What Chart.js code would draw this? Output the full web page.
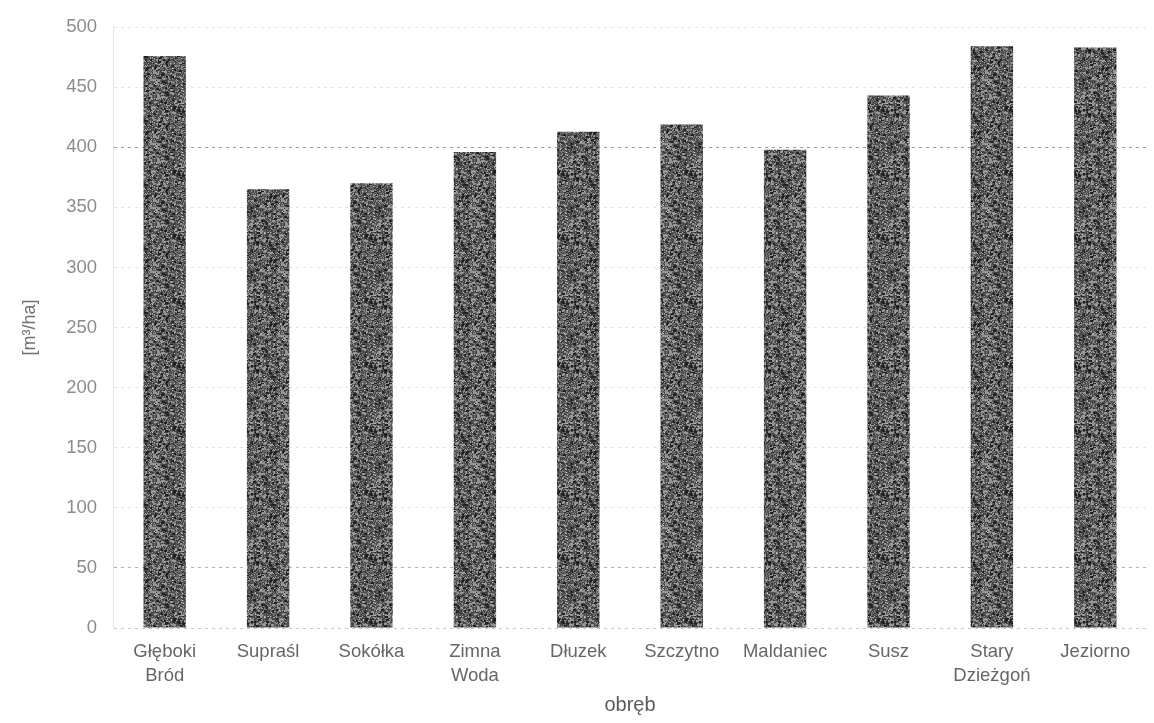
<!DOCTYPE html>
<html>
<head>
<meta charset="utf-8">
<script src="https://cdn.jsdelivr.net/npm/chart.js@4/dist/chart.umd.min.js"></script>
<style>
  html, body { margin: 0; padding: 0; background: #fff; }
  #wrap { width: 1154px; height: 723px; }
</style>
</head>
<body>
<div id="wrap"><canvas id="volumeChart"></canvas></div>
<script>
// Precincts (obręb) and stand volume in m3/ha
const precincts = [
    ['Głęboki', 'Bród'], 'Supraśl', 'Sokółka', ['Zimna', 'Woda'], 'Dłuzek',
    'Szczytno', 'Maldaniec', 'Susz', ['Stary', 'Dzieżgoń'], 'Jeziorno'
];
const volumes = [476, 365, 370, 396, 413, 419, 398, 443, 484, 483];
const yTicks = [0, 50, 100, 150, 200, 250, 300, 350, 400, 450, 500];

// Grainy dark grey fill, like a photocopied print (deterministic noise)
function makeGrainPattern() {
    const size = 64;
    const c = document.createElement('canvas');
    c.width = size;
    c.height = size;
    const g = c.getContext('2d');
    let seed = 12345;
    function rnd() {
        seed = (seed * 1103515245 + 12345) & 0x7fffffff;
        return seed / 0x7fffffff;
    }
    // base speckle
    for (let y = 0; y < size; y++) {
        for (let x = 0; x < size; x++) {
            const v = Math.round(45 + rnd() * rnd() * 150 + rnd() * 25);
            g.fillStyle = 'rgb(' + v + ',' + v + ',' + v + ')';
            g.fillRect(x, y, 1, 1);
        }
    }
    // a few darker and lighter blotches on top
    for (let i = 0; i < 260; i++) {
        const v = rnd() < 0.5 ? 35 : 150;
        g.fillStyle = 'rgb(' + v + ',' + v + ',' + v + ')';
        g.fillRect(Math.floor(rnd() * size), Math.floor(rnd() * size), 2 + Math.floor(rnd() * 2), 2);
    }
    return g.createPattern(c, 'repeat');
}

const ctx = document.getElementById('volumeChart').getContext('2d');
const volumeChart = new Chart(ctx, {
    type: 'bar',
    data: {
        labels: precincts,
        datasets: [{
            data: volumes,
            backgroundColor: makeGrainPattern(),
            borderWidth: 0,
            barPercentage: 0.41,
            categoryPercentage: 1.0
        }]
    },
    options: {
        responsive: true,
        maintainAspectRatio: false,
        animation: false,
        layout: { padding: { top: 26, right: 7, left: 0, bottom: 0 } },
        plugins: {
            legend: { display: false },
            tooltip: { enabled: false }
        },
        scales: {
            x: {
                grid: { display: false, drawTicks: false },
                border: { display: false },
                ticks: {
                    color: '#666',
                    padding: 12,
                    maxRotation: 0,
                    autoSkip: false,
                    font: { family: 'Liberation Sans', size: 18.5, lineHeight: 1.28 }
                },
                title: {
                    display: true,
                    text: 'obręb',
                    color: '#5a5a5a',
                    padding: { top: 0, bottom: 6 },
                    font: { family: 'Liberation Sans', size: 20 }
                },
                afterFit: (scale) => { scale.height = 95; }
            },
            y: {
                min: 0,
                max: 500,
                afterBuildTicks: (scale) => {
                    scale.ticks = yTicks.map(v => ({ value: v }));
                },
                grid: {
                    drawTicks: false,
                    lineWidth: 1,
                    color: (c) => {
                        const v = c.tick ? c.tick.value : null;
                        if (v === 400) return '#9a9a9a';
                        if (v === 50) return '#b4b4b4';
                        if (v === 0) return '#c8c8c8';
                        return '#e2e2e2';
                    }
                },
                border: { display: true, color: '#e6e6e6', dash: [3, 4] },
                ticks: {
                    color: '#8c8c8c',
                    padding: 16,
                    font: { family: 'Liberation Sans', size: 18.5 }
                },
                title: {
                    display: true,
                    text: '[m³/ha]',
                    color: '#707070',
                    padding: { top: 19, bottom: 0 },
                    font: { family: 'Liberation Sans', size: 18 }
                },
                afterFit: (scale) => { scale.width = 113; }
            }
        }
    }
});
</script>
</body>
</html>
